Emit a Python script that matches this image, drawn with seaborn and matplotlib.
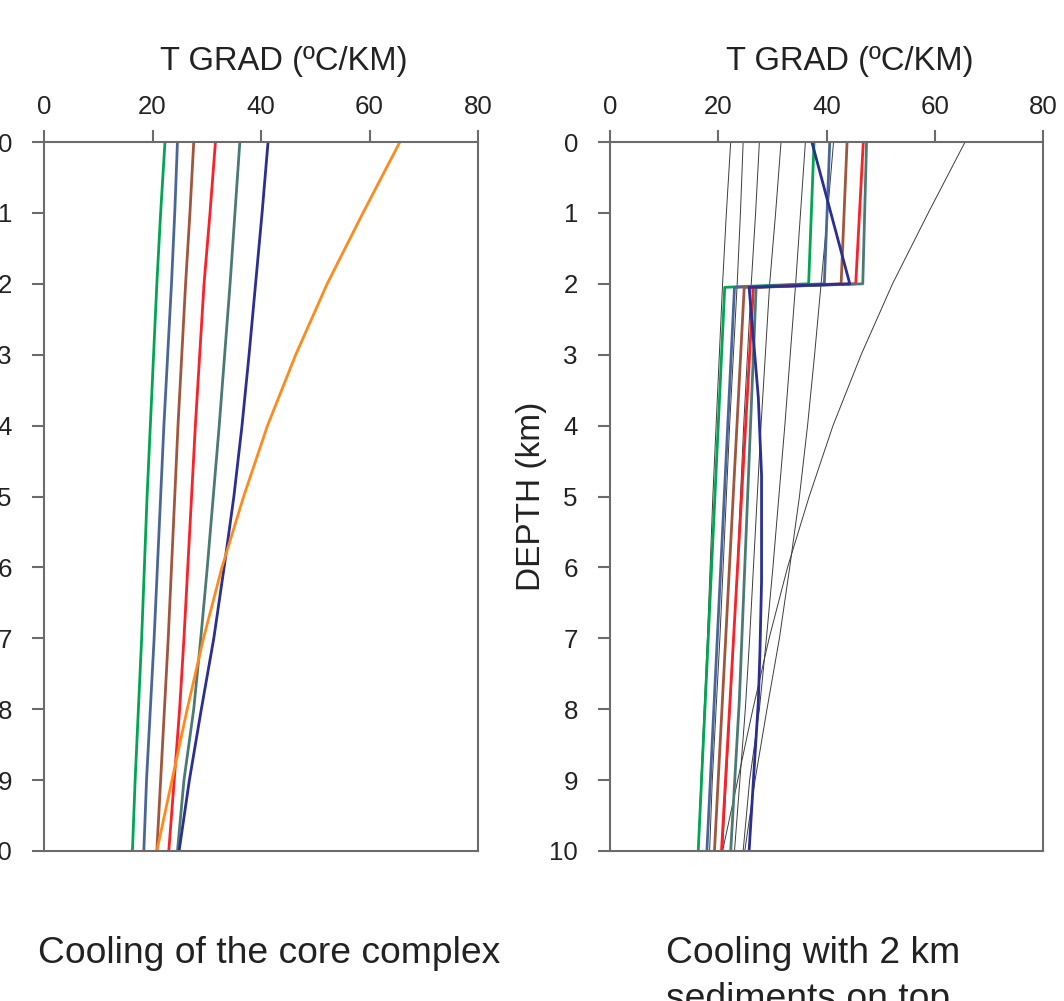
import numpy as np
import pandas as pd
import matplotlib
matplotlib.use("Agg")
import matplotlib.pyplot as plt
import seaborn as sns

# ---------------- data ----------------
DEPTH = [0, 1, 2, 3, 4, 5, 6, 7, 8, 9, 10]

core_green = [22.3, 21.5, 20.8, 20.2, 19.6, 19.0, 18.5, 18.0, 17.4, 16.8, 16.3]
core_blue = [24.6, 24.1, 23.5, 22.8, 22.1, 21.5, 20.9, 20.3, 19.6, 18.9, 18.4]
core_brown = [27.6, 26.9, 26.1, 25.4, 24.7, 24.1, 23.5, 22.9, 22.2, 21.5, 20.8]
core_red = [31.6, 30.6, 29.5, 28.7, 27.9, 27.2, 26.5, 25.8, 25.0, 24.0, 23.0]
core_teal = [36.1, 35.2, 34.3, 33.3, 32.3, 31.2, 30.1, 28.9, 27.6, 25.8, 24.6]
core_navy = [41.3, 40.2, 39.0, 37.8, 36.5, 35.0, 33.2, 31.3, 29.0, 26.8, 24.9]
core_orange = [65.6, 58.8, 52.2, 46.4, 41.2, 36.8, 32.8, 29.4, 26.4, 23.6, 20.8]

SED_DEPTH = [0, 2.0, 2.05, 10]
sed_green = [37.7, 36.7, 21.2, 16.3]
sed_blue = [40.6, 39.6, 23.0, 17.9]
sed_brown = [43.8, 42.7, 24.8, 19.3]
sed_red = [46.8, 45.4, 26.5, 20.6]
SED_TEAL_DEPTH = [0, 2.0, 2.05, 7.87, 10]
sed_teal = [47.4, 46.7, 27.0, 23.9, 22.3]
SED_NAVY_DEPTH = [0, 2.0, 2.05, 3.6, 4.7, 6.2, 7.2, 7.9, 9.0, 10]
sed_navy = [37.3, 44.3, 25.7, 27.4, 28.0, 28.0, 27.7, 27.4, 26.5, 25.7]

X_TICKS = [0, 20, 40, 60, 80]
Y_TICKS = [0, 1, 2, 3, 4, 5, 6, 7, 8, 9, 10]
X_TITLE = "T GRAD (ºC/KM)"
Y_TITLE = "DEPTH (km)"
CAPTION_LEFT = "Cooling of the core complex"
CAPTION_RIGHT_1 = "Cooling with 2 km"
CAPTION_RIGHT_2 = "sediments on top."

COLORS = {
    "green": "#00a651",
    "blue": "#4a6699",
    "brown": "#a0563c",
    "red": "#ff1f26",
    "teal": "#4b7a73",
    "navy": "#2b2e92",
    "orange": "#ff8a1c",
}

core = pd.concat([
    pd.DataFrame({"run": name, "depth": DEPTH, "grad": vals})
    for name, vals in [("green", core_green), ("blue", core_blue), ("brown", core_brown),
                       ("red", core_red), ("teal", core_teal), ("navy", core_navy),
                       ("orange", core_orange)]
], ignore_index=True)

sed = pd.concat([
    pd.DataFrame({"run": name, "depth": d, "grad": vals})
    for name, d, vals in [("green", SED_DEPTH, sed_green), ("blue", SED_DEPTH, sed_blue),
                          ("brown", SED_DEPTH, sed_brown), ("red", SED_DEPTH, sed_red),
                          ("teal", SED_TEAL_DEPTH, sed_teal), ("navy", SED_NAVY_DEPTH, sed_navy)]
], ignore_index=True)

# ---------------- style ----------------
sns.set_theme(style="ticks")
plt.rcParams["font.family"] = ["Liberation Sans", "DejaVu Sans"]

W, H = 1064, 1001
fig = plt.figure(figsize=(W / 100, H / 100), dpi=100)
fig.patch.set_facecolor("white")

ax1 = fig.add_axes([44 / W, 1 - 851 / H, 434 / W, 709 / H])
ax2 = fig.add_axes([610 / W, 1 - 851 / H, 433 / W, 709 / H])

SPINE = "#6b6b6b"
TXT = "#222222"

# left panel: cooling of core complex
sns.lineplot(data=core, x="grad", y="depth", hue="run", palette=COLORS,
             orient="y", estimator=None, sort=False, lw=2.0, legend=False, ax=ax1)

# right panel: thin reference curves + sediment runs
sns.lineplot(data=core, x="grad", y="depth", units="run", color="#3c3c3c",
             orient="y", estimator=None, sort=False, lw=0.7, legend=False, ax=ax2)
sns.lineplot(data=sed, x="grad", y="depth", hue="run",
             palette={k: COLORS[k] for k in sed["run"].unique()},
             orient="y", estimator=None, sort=False, lw=2.0, legend=False, ax=ax2)

for ax, cx in [(ax1, (284 - 44) / 434), (ax2, (850 - 610) / 433)]:
    ax.set_xlim(0, 80)
    ax.set_ylim(10, 0)
    ax.set_xticks(X_TICKS)
    ax.set_yticks(Y_TICKS)
    for s in ax.spines.values():
        s.set_visible(True)
        s.set_color(SPINE)
        s.set_linewidth(1.5)
    ax.tick_params(axis="both", direction="out", length=8.6, width=1.5,
                   color=SPINE, labelsize=18.6, labelcolor=TXT)
    ax.tick_params(axis="x", top=True, bottom=False, labeltop=True,
                   labelbottom=False, pad=8.0)
    ax.tick_params(axis="y", left=True, right=False, pad=14.5)
    ax.xaxis.set_label_position("top")
    ax.set_xlabel(X_TITLE, fontsize=23.6, color=TXT)
    ax.xaxis.set_label_coords(cx, (851 - 70) / 709)
    ax.set_ylabel("")
    ax.grid(False)

ax2.set_ylabel(Y_TITLE, fontsize=24, color=TXT)
ax2.yaxis.set_label_coords((547 - 610) / 433, 0.5)

fig.text(38 / W, 1 - 963 / H, CAPTION_LEFT, fontsize=26.8, color=TXT,
         ha="left", va="baseline")
fig.text(666 / W, 1 - 963 / H, CAPTION_RIGHT_1, fontsize=26.8, color=TXT,
         ha="left", va="baseline")
fig.text(666 / W, 1 - 1009 / H, CAPTION_RIGHT_2, fontsize=26.8, color=TXT,
         ha="left", va="baseline")

fig.savefig("out.png", dpi=100, facecolor="white")
